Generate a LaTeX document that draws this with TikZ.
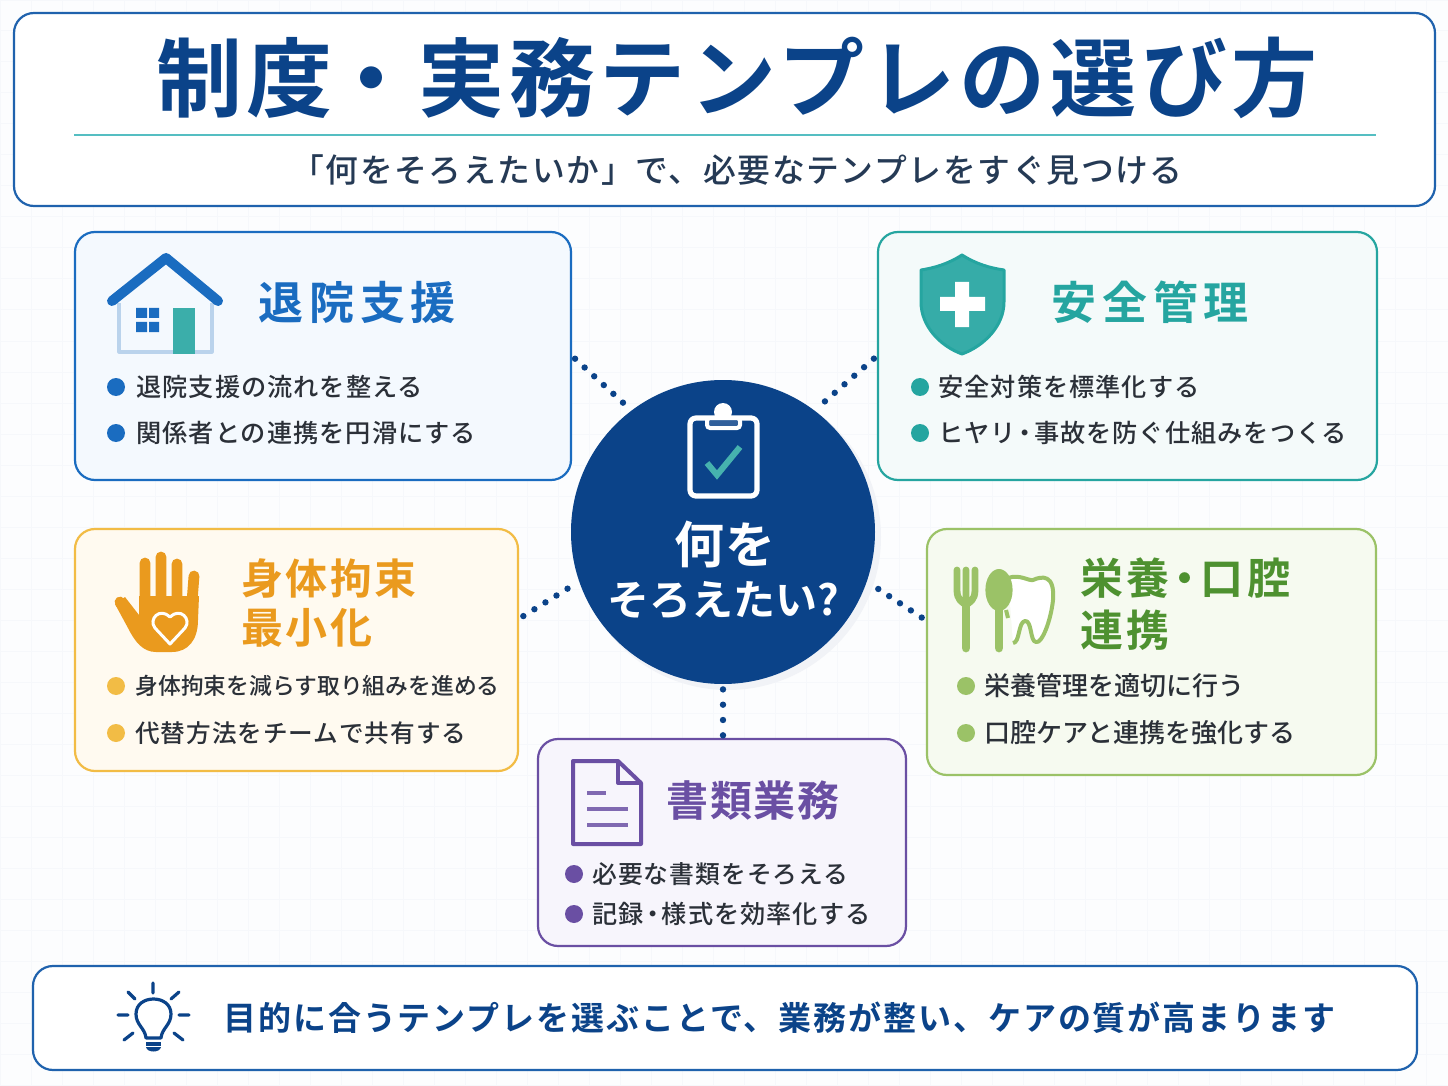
\documentclass[tikz,border=0pt]{standalone}
\usepackage{fontspec}
\setmainfont{Noto Sans CJK JP}[BoldFont={Noto Sans CJK JP Bold}]
\newfontfamily\jpmedium{Noto Sans CJK JP Medium}
\definecolor{navy}{HTML}{0B4389}
\definecolor{frameblue}{HTML}{1F62AD}
\definecolor{rule}{HTML}{55BEC2}
\definecolor{inktext}{HTML}{2B3038}
\definecolor{subtext}{HTML}{253A55}
\definecolor{bgpage}{HTML}{FCFDFE}
\definecolor{gridc}{HTML}{F6F8FB}
\definecolor{halo}{HTML}{F1F3F7}
\definecolor{blueC}{HTML}{1A6CC0}
\definecolor{blueF}{HTML}{F4F9FE}
\definecolor{tealC}{HTML}{25A5A0}
\definecolor{tealF}{HTML}{F4FAFA}
\definecolor{amberC}{HTML}{F2BC45}
\definecolor{amberT}{HTML}{EA9A1E}
\definecolor{amberF}{HTML}{FFFAF0}
\definecolor{greenC}{HTML}{9BC267}
\definecolor{greenT}{HTML}{4E9130}
\definecolor{greenF}{HTML}{F6FAF0}
\definecolor{violetC}{HTML}{6A4FA3}
\definecolor{violetF}{HTML}{F7F5FC}
\newcommand{\nd}{\kern-.14em・\kern-.14em}
\tikzset{
  card/.style={rectangle,rounded corners=10pt,line width=1.1pt,inner sep=0pt},
  cardhead/.style={anchor=west,inner sep=0pt,font=\bfseries\fontsize{22.5}{26}\selectfont\addfontfeature{LetterSpace=13}},
  cardline/.style={anchor=west,inner sep=0pt,text=inktext,font=\jpmedium\fontsize{12.6}{15}\selectfont\addfontfeature{LetterSpace=4}},
  link/.style={line width=3.2pt,line cap=round,dash pattern=on 0pt off 6.5pt,navy,shorten <=2pt,shorten >=5pt},
}
\begin{document}
\begin{tikzpicture}[x=.5pt,y=-.5pt]
\useasboundingbox (0,0) rectangle (1448,1086);
\fill[bgpage] (0,0) rectangle (1448,1086);
\draw[gridc,line width=.5pt,step=15.5pt] (0,0) grid (1448,1086);
%
\node[card,draw=frameblue,fill=white,minimum width=710.5pt,minimum height=96.5pt] (header) at (724.5,109.5) {};
\node[inner sep=0pt,text=navy,font=\bfseries\fontsize{43}{50}\selectfont\addfontfeature{LetterSpace=5.4}] (maintitle) at (737,78) {制度\kern-.05em・\kern.05em 実務テンプレの選び方};
\draw[rule,line width=1.3pt] (74,135) -- (1376,135);
\node[inner sep=0pt,text=subtext,font=\jpmedium\fontsize{16.4}{20}\selectfont\addfontfeature{LetterSpace=5}] (subtitle) at (737,170) {「何をそろえたいか」で、必要なテンプレをすぐ見つける};
%
\node[card,draw=blueC,fill=blueF,minimum width=248pt,minimum height=124pt] (boxA) at (323,356) {};
\node[card,draw=tealC,fill=tealF,minimum width=249.5pt,minimum height=124pt] (boxB) at (1127.5,356) {};
\node[card,draw=amberC,fill=amberF,minimum width=221.5pt,minimum height=121pt] (boxC) at (296.5,650) {};
\node[card,draw=greenC,fill=greenF,minimum width=224.5pt,minimum height=123pt] (boxD) at (1151.5,652) {};
\node[card,draw=violetC,fill=violetF,minimum width=184pt,minimum height=103.5pt] (boxE) at (722,842.5) {};
\node[card,draw=frameblue,fill=white,minimum width=692pt,minimum height=52pt] (footer) at (725,1018) {};
%
\fill[halo] (728,537) circle (76.5pt);
\node[circle,fill=navy,minimum size=152pt,inner sep=0pt] (hub) at (723,532) {};
\draw[link] (boxA.east) -- (hub.127);
\draw[link] (boxB.west) -- (hub.53);
\draw[link,shorten <=2.5pt,shorten >=4pt] (boxC.8) -- (hub.199);
\draw[link,shorten <=2.5pt,shorten >=4pt] (boxD.172) -- (hub.-19);
\draw[link,dash pattern=on 0pt off 7.65pt,shorten <=2.5pt,shorten >=0pt] (hub.south) -- (hub.south |- boxE.north);
%
% clipboard
\draw[white,line width=2.6pt,rounded corners=3pt] (690,418) rectangle (757,496);
\fill[white] (723,412) circle (4.5pt);
\draw[white,fill=navy!85!white,line width=2pt,rounded corners=1.5pt] (707,418) rectangle (740,428);
\draw[tealC!85!white,line width=3pt] (707,463) -- (717,475) -- (740,447);
\node[inner sep=0pt,text=white,font=\bfseries\fontsize{25}{28}\selectfont\addfontfeature{LetterSpace=1}] (hubA) at (725,544) {何を};
\node[inner sep=0pt,text=white,font=\bfseries\fontsize{21}{26}\selectfont] (hubB) at (723,600) {そろえたい?};
%
% house
\draw[blueC!30!white,line width=1.6pt,line join=round] (119,303) -- (119,352) -- (212,352) -- (212,303);
\fill[tealC!90!white] (173,308) rectangle (195,354);
\fill[blueC] (136,308) rectangle (147,318) (149,308) rectangle (159,318) (136,322) rectangle (147,332) (149,322) rectangle (159,332);
\draw[blueC,line width=5pt,line cap=round,line join=round] (112,301) -- (166,258) -- (218,301);
\node[cardhead,text=blueC] (headA) at (258,302) {退院支援};
\node[cardline] (lineA1) at (136,387) {退院支援の流れを整える};
\node[cardline] (lineA2) at (136,433) {関係者との連携を円滑にする};
\foreach \y in {387,433} \fill[blueC] (116,\y) circle (4.5pt);
%
% shield
\draw[tealC,fill=tealC!92!white,line width=1.5pt,line join=round] (962,255) .. controls (948,264) and (934,268) .. (921,270) -- (921,302) .. controls (921,326) and (940,346) .. (962,354) .. controls (984,346) and (1004,326) .. (1004,302) -- (1004,270) .. controls (990,268) and (976,264) .. (962,255) -- cycle;
\fill[white] (955,282) rectangle (969,327) (940,297) rectangle (985,311);
\node[cardhead,text=tealC] (headB) at (1051,302) {安全管理};
\node[cardline] (lineB1) at (938,387) {安全対策を標準化する};
\node[cardline] (lineB2) at (938,433) {ヒヤリ\nd 事故を防ぐ仕組みをつくる};
\foreach \y in {387,433} \fill[tealC] (920,\y) circle (4.5pt);
%
% hand
\fill[amberT] (139,596) -- (199,596) -- (198,620) .. controls (198,640) and (188,652) .. (172,652) -- (156,652) .. controls (143,652) and (135,642) .. (128,628) -- (115,604) -- (125,597) -- (139,615) -- cycle;
\draw[amberT,line width=5.4pt,line cap=round] (145,563) -- (145,602) (161,557) -- (161,602) (177,564) -- (177,602) (194,576) -- (192,602) (120,602) -- (136,625);
\draw[white,line width=1.5pt,line join=round] (170,644) -- (155,628) .. controls (148,619) and (160,607) .. (170,617) .. controls (180,607) and (192,619) .. (185,628) -- cycle;
\node[cardhead,text=amberT,font=\bfseries\fontsize{21}{26}\selectfont\addfontfeature{LetterSpace=5.5}] (headC1) at (241,578) {身体拘束};
\node[cardhead,text=amberT,font=\bfseries\fontsize{21}{26}\selectfont\addfontfeature{LetterSpace=5.5}] (headC2) at (241,628) {最小化};
\node[cardline,font=\jpmedium\fontsize{11.4}{15}\selectfont] (lineC1) at (135,686) {身体拘束を減らす取り組みを進める};
\node[cardline,font=\jpmedium\fontsize{12.3}{15}\selectfont\addfontfeature{LetterSpace=4}] (lineC2) at (135,733) {代替方法をチームで共有する};
\foreach \y in {686,733} \fill[amberC] (116,\y) circle (4.5pt);
%
% cutlery and tooth
\draw[greenC,fill=white,line width=2pt,line join=round] (1006,610) -- (1008,618) (1008,578) .. controls (1020,574) and (1028,581) .. (1033,580) .. controls (1042,576) and (1055,574) .. (1053,600) .. controls (1051,620) and (1042,644) .. (1036,642) .. controls (1030,642) and (1032,620) .. (1025,621) .. controls (1018,622) and (1020,643) .. (1013,643);
\fill[greenC] (999,590) ellipse (6.8pt and 10.5pt);
\draw[greenC,line width=4.4pt,line cap=round] (999,600) -- (999,648);
\draw[greenC,line width=4.4pt,line cap=round] (966,600) -- (966,648);
\draw[greenC,line width=3.4pt,line cap=round] (957,570) -- (957,590) .. controls (957,600) and (962,602) .. (966,605) .. controls (970,602) and (975,600) .. (975,590) -- (975,570) (966,570) -- (966,605);
\node[cardhead,text=greenT,font=\bfseries\fontsize{21.5}{26}\selectfont\addfontfeature{LetterSpace=8}] (headD1) at (1080,578) {栄養\nd 口腔};
\node[cardhead,text=greenT,font=\bfseries\fontsize{21.5}{26}\selectfont\addfontfeature{LetterSpace=8}] (headD2) at (1080,630) {連携};
\node[cardline,font=\jpmedium\fontsize{13}{15}\selectfont] (lineD1) at (984,686) {栄養管理を適切に行う};
\node[cardline,font=\jpmedium\fontsize{13}{15}\selectfont] (lineD2) at (984,733) {口腔ケアと連携を強化する};
\foreach \y in {686,733} \fill[greenC] (966,\y) circle (4.5pt);
%
% document
\draw[violetC,line width=2pt,line join=round] (618,761) -- (573,761) -- (573,844) -- (641,844) -- (641,783) -- cycle;
\draw[violetC,line width=2pt,line join=round] (618,761) -- (618,783) -- (641,783);
\draw[violetC!85!white,line width=2pt] (587,793) -- (606,793) (587,809) -- (628,809) (587,825) -- (628,825);
\node[cardhead,text=violetC,font=\bfseries\fontsize{21}{26}\selectfont\addfontfeature{LetterSpace=4}] (headE) at (666,801) {書類業務};
\node[cardline,font=\jpmedium\fontsize{12.4}{15}\selectfont\addfontfeature{LetterSpace=4}] (lineE1) at (592,874) {必要な書類をそろえる};
\node[cardline] (lineE2) at (592,914) {記録\nd 様式を効率化する};
\foreach \y in {874,914} \fill[violetC] (574,\y) circle (4.5pt);
%
% bulb
\draw[navy,line width=1.6pt,line join=round] (146,1038) .. controls (145,1028) and (136,1025) .. (136,1014) .. controls (136,994) and (171,994) .. (171,1014) .. controls (171,1025) and (162,1028) .. (161,1038) -- cycle;
\draw[navy,line width=1.6pt] (146,1044) -- (161,1044);
\fill[navy] (146,1047) -- (161,1047) .. controls (160,1053) and (147,1053) .. (146,1047) -- cycle;
\draw[navy,line width=1.6pt,line cap=round] (153,983) -- (153,993) (128,992) -- (135,999) (179,992) -- (171,999) (118,1015) -- (128,1015) (179,1015) -- (189,1015) (124,1040) -- (133,1033) (183,1040) -- (174,1033);
\node[anchor=west,inner sep=0pt,text=navy,font=\bfseries\fontsize{16.5}{20}\selectfont\addfontfeature{LetterSpace=5.8}] (footline) at (223,1018) {目的に合うテンプレを選ぶことで、業務が整い、ケアの質が高まります};
%
\end{tikzpicture}
\end{document}
